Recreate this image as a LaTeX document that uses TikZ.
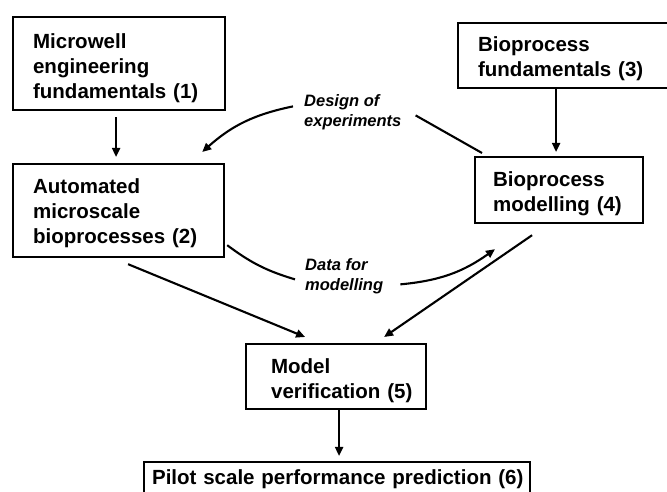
\documentclass[tikz,border=0pt]{standalone}
\usepackage{fontspec}
\setmainfont{Liberation Sans}
\usetikzlibrary{arrows.meta}

\begin{document}
\begin{tikzpicture}[x=1pt,y=1pt,
	box/.style={draw,line width=2.2pt,anchor=north west,inner xsep=20pt,inner ysep=0pt,align=left,font=\bfseries\fontsize{20.5}{25}\selectfont},
	lbl/.style={anchor=north west,inner sep=0pt,align=left,font=\bfseries\itshape\fontsize{16.5}{20}\selectfont},
	conn/.style={line width=2.1pt,-{Triangle[length=9pt,width=8pt]}},
	link/.style={line width=2.1pt}]
	\useasboundingbox (0,0) rectangle (667,492);
	\clip (0,0) rectangle (667,492);
	\node[box,text width=172pt,text height=31pt,text depth=62pt] (b1) at (12,476) {Microwell\\engineering\\fundamentals (1)};
	\node[box,text width=171pt,text height=29pt,text depth=64pt] (b2) at (12,329) {Automated\\microscale\\bioprocesses (2)};
	\node[box,text width=175pt,text height=28pt,text depth=37pt] (b3) at (457,470) {Bioprocess\\fundamentals (3)};
	\node[box,inner xsep=18pt,text width=132pt,text height=29pt,text depth=37pt] (b4) at (474,336) {Bioprocess\\\mbox{modelling (4)}};
	\node[box,inner xsep=25pt,text width=130pt,text height=29pt,text depth=36pt] (b5) at (245,149) {Model\\\mbox{verification (5)}};
	\node[box,inner xsep=8pt,text width=370pt,text height=22pt,text depth=20pt] (b6) at (143,31) {\mbox{Pilot scale performance prediction (6)}};
	\node[lbl] (doe) at (304,398) {Design of\\experiments};
	\node[lbl] (dfm) at (305,234) {Data for\\modelling};
	\draw[conn] ([xshift=-3pt,yshift=-6pt]b1.south) -- ([xshift=-2.5pt,yshift=6pt]b2.north);
	\draw[conn] ([xshift=-9.5pt]b3.south) -- ([xshift=-3pt,yshift=4pt]b4.north);
	\draw[conn] ([xshift=3pt]b5.south) -- ([xshift=2pt,yshift=5pt]b6.north);
	\draw[conn] ([xshift=9.5pt,yshift=-6pt]b2.south) -- ([xshift=-31pt,yshift=6pt]b5.north);
	\draw[conn] ([xshift=-27pt,yshift=-11pt]b4.south) -- ([xshift=48pt,yshift=6pt]b5.north);
	\draw[link] ([shift={(8pt,3pt)}]b4.north west) -- ([shift={(14pt,-3.5pt)}]doe.east);
	\draw[conn] ([shift={(-11pt,5.5pt)}]doe.west) to[bend right=15] ([shift={(-23pt,11pt)}]b2.north east);
	\draw[link] ([shift={(2pt,13pt)}]b2.south east) to[bend right=10] ([shift={(-10pt,-3.5pt)}]dfm.west);
	\draw[conn] ([shift={(17pt,-8.5pt)}]dfm.east) to[bend right=15] ([shift={(21pt,-25pt)}]b4.south west);
\end{tikzpicture}
\end{document}
